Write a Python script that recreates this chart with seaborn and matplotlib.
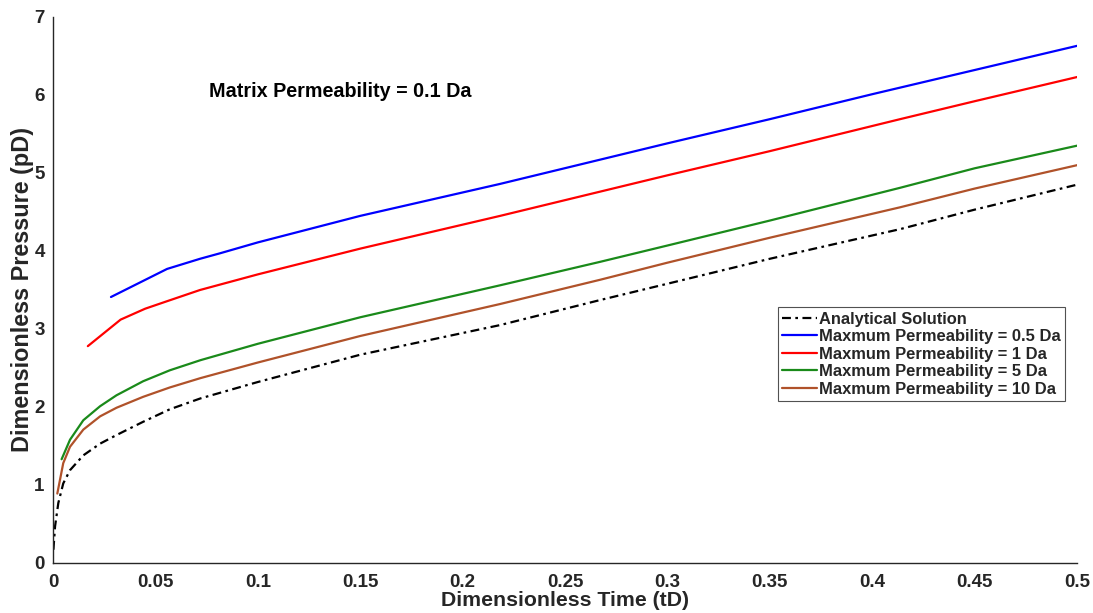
import matplotlib
matplotlib.use("Agg")
import matplotlib.pyplot as plt
import seaborn as sns
import pandas as pd
from matplotlib.ticker import FuncFormatter

# ---- data ----
t_analytical = [0.0002, 0.001, 0.0026, 0.005, 0.0083, 0.0148, 0.023, 0.031, 0.044, 0.057,
                0.072, 0.1, 0.15, 0.2183, 0.267, 0.3, 0.35, 0.4136, 0.45, 0.5]
p_analytical = [0.17, 0.47, 0.77, 1.02, 1.19, 1.38, 1.53, 1.64, 1.81, 1.97,
                2.11, 2.32, 2.67, 3.05, 3.37, 3.58, 3.90, 4.28, 4.53, 4.85]

t_k05 = [0.0283, 0.0557, 0.0718, 0.0815, 0.1, 0.15, 0.2183, 0.267, 0.3, 0.35, 0.4, 0.45, 0.5]
p_k05 = [3.41, 3.77, 3.90, 3.97, 4.11, 4.45, 4.86, 5.17, 5.38, 5.69, 6.01, 6.32, 6.63]

t_k1 = [0.017, 0.033, 0.045, 0.055, 0.0718, 0.1, 0.15, 0.2183, 0.267, 0.3, 0.35, 0.4136, 0.45, 0.5]
p_k1 = [2.78, 3.12, 3.26, 3.35, 3.50, 3.70, 4.03, 4.45, 4.76, 4.97, 5.28, 5.69, 5.92, 6.23]

t_k5 = [0.0042, 0.0083, 0.0148, 0.023, 0.031, 0.044, 0.057, 0.072, 0.1, 0.15,
        0.2183, 0.267, 0.3, 0.35, 0.4136, 0.45, 0.5]
p_k5 = [1.33, 1.58, 1.83, 2.01, 2.15, 2.33, 2.47, 2.60, 2.81, 3.15,
        3.56, 3.86, 4.07, 4.39, 4.81, 5.06, 5.35]

t_k10 = [0.0021, 0.005, 0.0083, 0.0148, 0.023, 0.031, 0.044, 0.057, 0.072, 0.1, 0.15,
         0.2183, 0.267, 0.3, 0.35, 0.4136, 0.45, 0.5]
p_k10 = [0.89, 1.28, 1.49, 1.71, 1.88, 1.99, 2.13, 2.25, 2.37, 2.57, 2.91,
         3.32, 3.63, 3.85, 4.17, 4.56, 4.80, 5.10]

labels = ["Analytical Solution",
          "Maxmum Permeability = 0.5 Da",
          "Maxmum Permeability = 1 Da",
          "Maxmum Permeability = 5 Da",
          "Maxmum Permeability = 10 Da"]
colors = ["#000000", "#0000ff", "#ff0000", "#1a8a1a", "#b0522a"]
styles = [(0, (4, 2, 1.2, 2)), "-", "-", "-", "-"]

series = [(t_analytical, p_analytical), (t_k05, p_k05), (t_k1, p_k1), (t_k5, p_k5), (t_k10, p_k10)]

sns.set_style("white")
plt.rcParams['font.family'] = ['Liberation Sans', 'DejaVu Sans']
plt.rcParams['font.weight'] = 'bold'

fig = plt.figure(figsize=(10.93, 6.13), dpi=100)
ax = fig.add_axes([0.0485, 0.0816, 0.9369, 0.8907])

for (t, p), lab, c, ls in zip(series, labels, colors, styles):
    df = pd.DataFrame({"t": t, "p": p})
    sns.lineplot(data=df, x="t", y="p", ax=ax, color=c, linestyle=ls,
                 linewidth=1.6, label=lab, sort=False)

ax.set_xlim(0, 0.5)
ax.set_ylim(0, 7)
ax.set_xticks([i * 0.05 for i in range(11)])
ax.set_yticks(range(8))
ax.xaxis.set_major_formatter(FuncFormatter(lambda v, _: f"{v:g}"))
ax.yaxis.set_major_formatter(FuncFormatter(lambda v, _: f"{v:g}"))
ax.tick_params(direction="in", length=5, width=1, colors="#262626",
               labelsize=13.5, labelcolor="#262626")
ax.tick_params(axis="x", pad=8)
ax.tick_params(axis="y", pad=6)
for lbl in ax.get_xticklabels() + ax.get_yticklabels():
    lbl.set_fontweight("bold")

for s in ["top", "right"]:
    ax.spines[s].set_visible(False)
for s in ["left", "bottom"]:
    ax.spines[s].set_color("#262626")
    ax.spines[s].set_linewidth(1)

ax.set_xlabel("Dimensionless Time (tD)", fontsize=15.3, fontweight="bold", labelpad=0)
ax.set_ylabel("Dimensionless Pressure (pD)", fontsize=16.8, fontweight="bold", labelpad=0)

ax.text(0.152, 0.863, "Matrix Permeability = 0.1 Da", transform=ax.transAxes,
        fontsize=14.2, fontweight="bold", color="#000000", va="center")

leg = ax.legend(loc="upper left", bbox_to_anchor=(0.708, 0.468), frameon=True,
                fancybox=False, edgecolor="#262626", fontsize=11.9,
                handlelength=2.1, handletextpad=0.15, labelspacing=0.15,
                borderpad=0.25, borderaxespad=0)
leg.get_frame().set_linewidth(0.8)
for txt in leg.get_texts():
    txt.set_fontweight("bold")

fig.savefig("out.png", dpi=100)
